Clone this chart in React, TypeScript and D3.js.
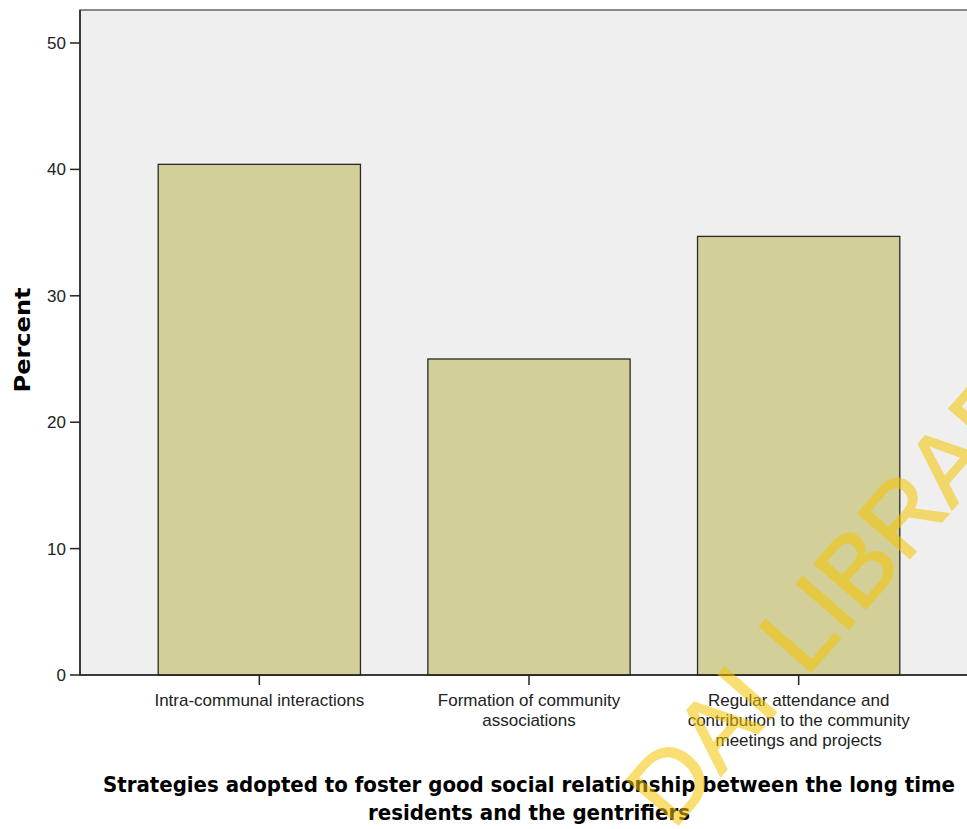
import React from "react";
import * as d3 from "d3";

const categories = [
  "Intra-communal interactions",
  "Formation of community associations",
  "Regular attendance and contribution to the community meetings and projects",
];
const categoryLines = [
  ["Intra-communal interactions"],
  ["Formation of community", "associations"],
  ["Regular attendance and", "contribution to the community", "meetings and projects"],
];
const percents = [40.4, 25.0, 34.7];
const yTicks = [0, 10, 20, 30, 40, 50];
const xTitleLines = [
  "Strategies adopted to foster good social relationship between the long time",
  "residents and the gentrifiers",
];
const yTitle = "Percent";

const W = 967;
const H = 829;
const left = 80;
const right = 978;
const top = 10;
const bottom = 675;

export default function App() {
  const x = d3
    .scaleBand<string>()
    .domain(categories)
    .range([left, right])
    .paddingInner(0.25)
    .paddingOuter(0.29);
  const y = d3.scaleLinear().domain([0, 50]).range([bottom, 43]);

  const font = "'Liberation Sans', Arial, sans-serif";
  const wmAngle = -49;

  return (
    <svg
      width={W}
      height={H}
      style={{ position: "absolute", left: 0, top: 0, display: "block", background: "#fff" }}
    >
      <rect x={left} y={top} width={right - left} height={bottom - top} fill="#efefef" stroke="#666" strokeWidth={1.5} />
      {categories.map((c, i) => (
        <rect
          key={c}
          x={x(c)!}
          y={y(percents[i])}
          width={x.bandwidth()}
          height={y(0) - y(percents[i])}
          fill="#d3cf98"
          stroke="#2a2a2a"
          strokeWidth={1.3}
        />
      ))}
      <line x1={left} y1={top} x2={left} y2={bottom} stroke="#222" strokeWidth={1.5} />
      <line x1={left} y1={bottom} x2={right} y2={bottom} stroke="#222" strokeWidth={1.5} />
      {yTicks.map((t) => (
        <g key={t}>
          <line x1={70} x2={left} y1={y(t)} y2={y(t)} stroke="#222" strokeWidth={1.5} />
          <text x={66} y={y(t) + 6} textAnchor="end" fontFamily={font} fontSize={17} fill="#222">
            {t}
          </text>
        </g>
      ))}
      {categories.map((c, i) => {
        const cx = x(c)! + x.bandwidth() / 2;
        return (
          <g key={c}>
            <line x1={cx} x2={cx} y1={bottom} y2={bottom + 10} stroke="#222" strokeWidth={1.5} />
            {categoryLines[i].map((ln, j) => (
              <text key={j} x={cx} y={706 + j * 20} textAnchor="middle" fontFamily={font} fontSize={17} fill="#222">
                {ln}
              </text>
            ))}
          </g>
        );
      })}
      <text
        transform={`translate(30,340) rotate(-90)`}
        textAnchor="middle"
        fontFamily="'DejaVu Sans', sans-serif"
        fontWeight="bold"
        fontSize={21}
        textLength={105}
        lengthAdjust="spacingAndGlyphs"
        fill="#000"
      >
        {yTitle}
      </text>
      <text
        x={529}
        y={792}
        textAnchor="middle"
        fontFamily="'DejaVu Sans', sans-serif"
        fontWeight="bold"
        fontSize={22}
        textLength={852}
        lengthAdjust="spacingAndGlyphs"
        fill="#000"
      >
        {xTitleLines[0]}
      </text>
      <text
        x={529}
        y={820}
        textAnchor="middle"
        fontFamily="'DejaVu Sans', sans-serif"
        fontWeight="bold"
        fontSize={22}
        textLength={322}
        lengthAdjust="spacingAndGlyphs"
        fill="#000"
      >
        {xTitleLines[1]}
      </text>
      <g
        transform={`translate(806,678) rotate(${wmAngle})`}
        fill="#f5c400"
        stroke="#f5c400"
        strokeWidth={1.5}
        opacity={0.55}
        fontFamily={font}
        fontSize={100}
      >
        <text x={0} y={0} textAnchor="start">LIBRARY</text>
        <text x={-36} y={0} textAnchor="end">DAI</text>
      </g>
    </svg>
  );
}
